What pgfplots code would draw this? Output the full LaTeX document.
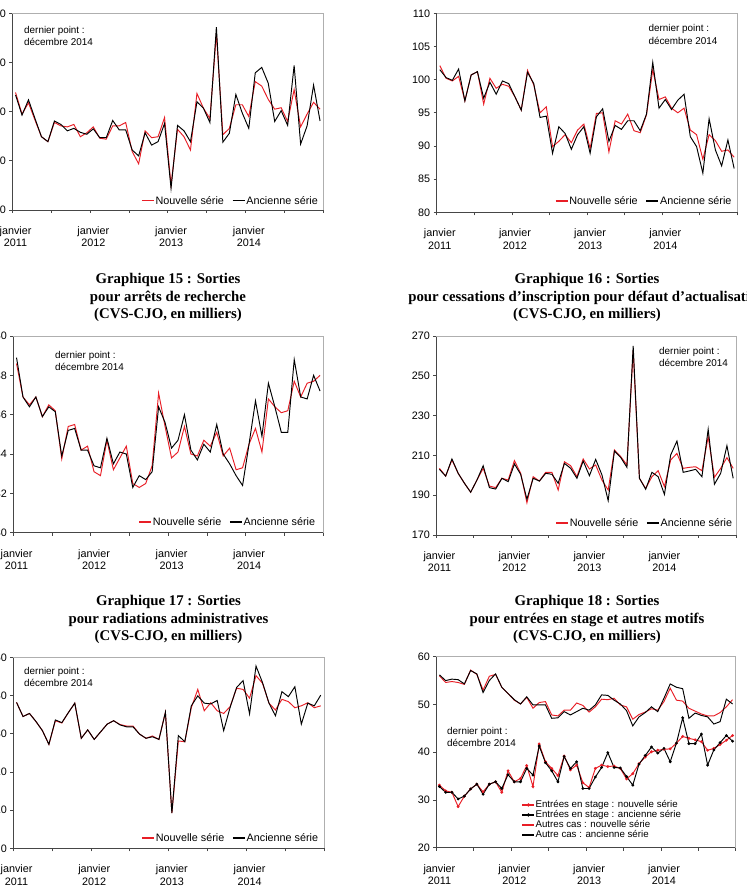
\documentclass[border=0pt]{standalone}
\usepackage{pgfplots}
\pgfplotsset{compat=1.18}
\usepackage{pgfplotstable}
\usepackage{fontspec}
\setmainfont{Liberation Sans}
\newfontfamily\tnr{Liberation Serif}
\definecolor{nred}{RGB}{232,30,38}
\definecolor{framecol}{RGB}{175,175,175}
\definecolor{axl}{RGB}{70,70,70}
\newcommand\tickfont{\fontsize{10.8}{12.6}\selectfont}
\newcommand\notefont{\fontsize{9.9}{12}\selectfont}
\newcommand\titlefont{\tnr\bfseries\fontsize{14.8}{17.7}\selectfont}

\pgfplotstableread{
i n o
0 103.9 103.4
1 99.5 99.3
2 101.8 102.4
3 98.3 98.6
4 94.9 94.9
5 93.9 93.9
6 97.8 98.1
7 97.1 97.4
8 96.9 96.1
9 97.4 96.6
10 94.9 95.8
11 95.7 95.4
12 96.9 96.5
13 94.6 94.7
14 94.4 94.7
15 97.1 98.2
16 97.1 96.3
17 97.8 96.3
18 91.9 92.2
19 89.4 91.0
20 96.1 95.7
21 94.7 93.2
22 94.9 93.9
23 98.8 97.6
24 85.1 84.4
25 96.4 97.2
26 94.9 96.1
27 92.2 93.9
28 103.7 102.0
29 100.7 100.7
30 98.6 97.8
31 115.9 117.2
32 95.3 93.8
33 96.6 95.6
34 101.4 103.5
35 101.4 99.7
36 99.0 96.6
37 106.1 107.9
38 105.2 109.0
39 102.5 105.8
40 100.5 98.0
41 100.8 100.2
42 98.0 97.2
43 104.5 109.4
44 96.9 93.4
45 99.5 97.1
46 101.9 105.4
47 100.5 98.1
}\dA

\pgfplotstableread{
i n o
0 102.1 101.5
1 100.2 100.3
2 99.8 99.9
3 100.5 101.6
4 96.8 96.8
5 100.7 100.7
6 101.2 101.2
7 96.3 97.2
8 100.2 99.6
9 98.7 97.8
10 99.3 99.8
11 99.0 99.4
12 97.4 97.4
13 95.4 95.4
14 101.4 101.1
15 99.2 99.4
16 95.0 94.3
17 95.9 94.5
18 89.9 88.9
19 90.7 92.9
20 91.7 91.9
21 90.5 89.5
22 92.4 91.7
23 93.3 92.9
24 89.6 88.9
25 94.9 94.4
26 95.0 95.6
27 89.1 90.7
28 93.8 93.1
29 93.3 92.5
30 94.8 93.8
31 92.3 93.8
32 92.0 92.3
33 94.7 94.8
34 101.5 102.6
35 97.0 95.7
36 97.4 97.0
37 95.7 95.5
38 95.0 96.9
39 95.7 97.8
40 92.4 91.4
41 91.7 89.9
42 88.0 85.9
43 91.7 94.1
44 90.8 89.4
45 89.2 87.0
46 89.4 90.9
47 88.3 86.6
}\dB

\pgfplotstableread{
i n o
0 38.6 38.9
1 36.9 36.9
2 36.5 36.4
3 36.9 36.9
4 35.9 35.9
5 36.5 36.4
6 36.2 36.15
7 33.75 33.9
8 35.4 35.2
9 35.5 35.3
10 34.2 34.2
11 34.4 34.2
12 33.1 33.4
13 32.9 33.3
14 34.7 34.8
15 33.2 33.5
16 33.8 34.1
17 34.4 34.0
18 32.5 32.3
19 32.3 32.9
20 32.5 32.7
21 33.4 33.1
22 37.1 36.4
23 35.4 35.6
24 33.8 34.3
25 34.1 34.7
26 35.4 36.0
27 34.0 34.2
28 33.9 33.7
29 34.7 34.5
30 34.4 34.1
31 35.1 35.5
32 33.9 34.0
33 34.3 33.5
34 33.2 32.9
35 33.3 32.4
36 34.5 34.5
37 35.3 36.7
38 34.1 34.9
39 36.8 37.6
40 36.4 36.4
41 36.1 35.1
42 36.2 35.1
43 37.7 38.8
44 36.9 36.9
45 37.6 36.8
46 37.7 38.0
47 38.0 37.2
}\dC

\pgfplotstableread{
i n o
0 203.5 203.0
1 199.6 199.6
2 207.7 208.2
3 201.0 201.0
4 196.0 196.0
5 191.5 191.5
6 197.6 197.6
7 203.5 204.8
8 194.6 193.8
9 193.8 193.1
10 198.5 198.5
11 197.6 196.8
12 207.4 205.7
13 201.0 200.5
14 186.2 188.0
15 199.3 198.5
16 197.1 197.1
17 201.5 201.0
18 201.5 200.5
19 192.6 196.0
20 206.8 206.0
21 204.8 203.5
22 199.3 198.5
23 208.2 207.2
24 203.2 199.8
25 205.2 208.0
26 197.6 200.2
27 192.6 187.3
28 212.7 212.2
29 209.4 209.0
30 205.2 204.0
31 262.6 265.0
32 198.5 198.5
33 193.4 193.0
34 199.3 201.5
35 202.3 199.3
36 194.3 190.4
37 207.7 210.2
38 211.0 217.2
39 203.5 201.5
40 204.0 202.2
41 204.3 203.0
42 202.3 199.3
43 219.4 223.1
44 199.0 195.5
45 203.5 201.0
46 208.9 214.9
47 203.5 198.5
}\dD

\pgfplotstableread{
i n o
0 38.2 38.2
1 34.5 34.5
2 35.3 35.3
3 33.2 33.2
4 30.8 30.8
5 27.2 27.2
6 33.4 33.6
7 32.8 32.9
8 35.5 35.5
9 38.0 38.0
10 28.8 28.8
11 31.0 31.0
12 28.5 28.5
13 30.5 30.5
14 32.5 32.5
15 33.4 33.4
16 32.4 32.3
17 32.0 31.8
18 32.0 31.8
19 29.9 29.9
20 28.8 28.8
21 29.4 29.2
22 28.5 28.5
23 35.6 35.6
24 9.2 9.2
25 28.1 29.5
26 27.9 27.9
27 36.8 37.3
28 41.6 39.9
29 36.0 38.0
30 38.1 37.8
31 36.0 38.7
32 35.3 30.8
33 37.1 36.9
34 41.9 42.1
35 41.6 43.9
36 39.3 35.2
37 45.2 47.7
38 43.2 43.4
39 38.0 38.0
40 36.2 34.7
41 39.0 41.0
42 38.4 39.7
43 36.8 42.3
44 37.3 32.5
45 38.1 38.0
46 36.8 37.3
47 37.3 40.1
}\dE

\pgfplotstableread{
i sn so an ao
0 33.1 32.8 56.0 56.2
1 31.9 31.6 54.6 55.0
2 31.6 31.6 54.8 55.3
3 28.6 30.2 54.6 55.2
4 30.8 30.8 54.2 54.3
5 32.3 32.3 57.2 57.1
6 33.3 33.3 56.3 56.4
7 31.7 31.2 53.0 52.5
8 33.3 33.3 55.9 55.0
9 33.8 33.8 56.3 56.4
10 31.6 32.4 53.6 53.6
11 36.1 35.3 52.3 52.3
12 33.8 33.8 50.9 51.0
13 34.5 33.8 50.1 50.1
14 37.2 36.6 51.5 51.6
15 32.8 35.2 49.2 49.9
16 41.7 41.3 50.4 49.9
17 38.0 37.8 50.6 49.9
18 36.6 36.1 47.8 47.1
19 35.1 33.8 47.6 47.2
20 39.2 39.1 48.8 48.5
21 36.3 36.6 48.8 47.8
22 37.3 38.0 50.3 48.5
23 33.6 32.4 49.8 49.2
24 32.6 32.4 48.4 48.8
25 36.6 34.8 49.5 49.9
26 37.3 36.8 51.1 52.0
27 37.0 39.9 51.0 51.9
28 37.1 36.8 51.3 50.9
29 36.6 36.7 49.9 50.1
30 34.4 34.9 49.5 48.7
31 35.5 33.1 46.9 45.5
32 37.6 37.5 47.9 47.4
33 39.0 39.3 48.4 48.3
34 40.1 41.1 49.1 49.5
35 40.4 39.8 48.8 48.5
36 40.6 40.8 50.6 51.3
37 40.7 38.0 53.4 54.3
38 41.9 41.9 50.9 53.6
39 43.3 47.2 50.7 53.3
40 42.9 41.8 49.2 47.1
41 42.6 41.8 48.6 48.2
42 42.2 43.8 48.0 47.7
43 40.4 37.3 47.6 47.4
44 40.8 40.5 47.6 45.9
45 41.6 42.0 48.3 46.4
46 42.5 43.5 49.5 51.1
47 43.5 42.3 51.0 50.1
}\dF

\pgfplotsset{
  panel/.style={
    scale only axis, enlargelimits=false, xmin=0, xmax=48,
    axis lines*=left,
    axis line style={draw=axl, line width=0.8pt},
    tick align=outside, major tick length=3pt,
    every tick/.style={axl, line width=0.7pt},
    xtick={0,6,...,48}, xticklabels={},
    extra x ticks={0.5,12.5,24.5,36.5},
    extra x tick labels={janvier\\2011,janvier\\2012,janvier\\2013,janvier\\2014},
    extra x tick style={major tick length=0pt},
    xticklabel style={align=center, yshift=-13pt},
    ticklabel style={font=\tickfont},
    /pgf/number format/assume math mode=true,
    legend cell align=left,
    legend style={draw=none, fill=none, inner sep=0pt, font=\tickfont,
      nodes={inner sep=1pt},
      /tikz/every even column/.append style={column sep=7pt}},
    legend image code/.code={\draw[##1, line width=1.35pt] (0pt,0.5pt) -- (12pt,0.5pt);},
    extra description/.code={\draw[framecol, line width=0.8pt] (0,1) -- (1,1) -- (1,0);},
    every axis plot/.append style={line width=0.95pt},
  },
  twoleg/.style={legend columns=2, legend style={at={(1,0)}, anchor=south east}},
}

\begin{document}
\begin{tikzpicture}
\path[use as bounding box] (0,0) rectangle (747pt,895pt);
\clip (0,0) rectangle (747pt,895pt);

% Panel 1
\begin{axis}[panel, twoleg, at={(12.3pt,685pt)}, anchor=south west, width=311pt, height=196.7pt,
  ymin=80, ymax=120, ytick={80,90,...,120}, legend style={xshift=-4.3pt, yshift=3pt}]
\addplot[color=nred] table[x expr=\thisrow{i}+0.5, y=n]{\dA}; \addlegendentry{Nouvelle série}
\addplot[color=black] table[x expr=\thisrow{i}+0.5, y=o]{\dA}; \addlegendentry{Ancienne série}
\end{axis}

% Panel 2
\begin{axis}[panel, twoleg, at={(436.7pt,682.7pt)}, anchor=south west, width=300.6pt, height=199pt,
  ymin=80, ymax=110, ytick={80,85,...,110}, legend style={xshift=-4.6pt, yshift=4.8pt}]
\addplot[color=nred] table[x expr=\thisrow{i}+0.5, y=n]{\dB}; \addlegendentry{Nouvelle série}
\addplot[color=black] table[x expr=\thisrow{i}+0.5, y=o]{\dB}; \addlegendentry{Ancienne série}
\end{axis}

% Panel 3
\begin{axis}[panel, twoleg, at={(13.3pt,362.3pt)}, anchor=south west, width=310pt, height=196.7pt,
  ymin=30, ymax=40, ytick={30,32,...,40}, legend style={xshift=-7pt, yshift=4.2pt}]
\addplot[color=nred] table[x expr=\thisrow{i}+0.5, y=n]{\dC}; \addlegendentry{Nouvelle série}
\addplot[color=black] table[x expr=\thisrow{i}+0.5, y=o]{\dC}; \addlegendentry{Ancienne série}
\end{axis}

% Panel 4
\begin{axis}[panel, twoleg, at={(436.3pt,360pt)}, anchor=south west, width=300pt, height=199pt,
  ymin=170, ymax=270, ytick={170,190,...,270}, legend style={xshift=-3pt, yshift=5.5pt}]
\addplot[color=nred] table[x expr=\thisrow{i}+0.5, y=n]{\dD}; \addlegendentry{Nouvelle série}
\addplot[color=black] table[x expr=\thisrow{i}+0.5, y=o]{\dD}; \addlegendentry{Ancienne série}
\end{axis}

% Panel 5
\begin{axis}[panel, twoleg, at={(13.3pt,46.7pt)}, anchor=south west, width=310.7pt, height=191pt,
  ymin=0, ymax=50, ytick={0,10,...,50}, legend style={xshift=-4.7pt, yshift=3.8pt}]
\addplot[color=nred] table[x expr=\thisrow{i}+0.5, y=n]{\dE}; \addlegendentry{Nouvelle série}
\addplot[color=black] table[x expr=\thisrow{i}+0.5, y=o]{\dE}; \addlegendentry{Ancienne série}
\end{axis}

% Panel 6
\begin{axis}[panel, at={(436.3pt,47.3pt)}, anchor=south west, width=299.4pt, height=191pt,
  ymin=20, ymax=60, ytick={20,30,...,60}, legend columns=1,
  legend image code/.code={\draw[mark repeat=2, mark phase=2, #1, line width=1.3pt] plot coordinates {(0pt,0.5pt) (6pt,0.5pt) (12pt,0.5pt)};},
  legend style={at={(0.285,0.037)}, anchor=south west, font=\fontsize{9.7}{10}\selectfont,
    nodes={inner sep=0.5pt, text height=7pt, text depth=2pt}}]
\addplot[color=nred, mark=*, mark size=0.9pt] table[x expr=\thisrow{i}+0.5, y=sn]{\dF}; \addlegendentry{Entrées en stage : nouvelle série}
\addplot[color=black, mark=*, mark size=0.9pt] table[x expr=\thisrow{i}+0.5, y=so]{\dF}; \addlegendentry{Entrées en stage : ancienne série}
\addplot[color=nred] table[x expr=\thisrow{i}+0.5, y=an]{\dF}; \addlegendentry{Autres cas : nouvelle série}
\addplot[color=black] table[x expr=\thisrow{i}+0.5, y=ao]{\dF}; \addlegendentry{Autre cas : ancienne série}
\end{axis}

% notes
\node[anchor=base west, font=\notefont, inner sep=0] at (24pt,861.5pt) {dernier point :};
\node[anchor=base west, font=\notefont, inner sep=0] at (24pt,849.2pt) {décembre 2014};
\node[anchor=base west, font=\notefont, inner sep=0] at (648.3pt,863.2pt) {dernier point :};
\node[anchor=base west, font=\notefont, inner sep=0] at (648.3pt,850.8pt) {décembre 2014};
\node[anchor=base west, font=\notefont, inner sep=0] at (55pt,536.5pt) {dernier point :};
\node[anchor=base west, font=\notefont, inner sep=0] at (55pt,524.2pt) {décembre 2014};
\node[anchor=base west, font=\notefont, inner sep=0] at (659pt,540.8pt) {dernier point :};
\node[anchor=base west, font=\notefont, inner sep=0] at (659pt,528.8pt) {décembre 2014};
\node[anchor=base west, font=\notefont, inner sep=0] at (24pt,220.5pt) {dernier point :};
\node[anchor=base west, font=\notefont, inner sep=0] at (24pt,208.2pt) {décembre 2014};
\node[anchor=base west, font=\notefont, inner sep=0] at (447pt,160.8pt) {dernier point :};
\node[anchor=base west, font=\notefont, inner sep=0] at (447pt,148.2pt) {décembre 2014};

% titles
\node[anchor=base, font=\titlefont, inner sep=0] at (168pt,611.5pt) {Graphique 15 : Sorties};
\node[anchor=base, font=\titlefont, inner sep=0] at (168pt,593.8pt) {pour arrêts de recherche};
\node[anchor=base, font=\titlefont, inner sep=0] at (168pt,576.1pt) {(CVS-CJO, en milliers)};
\node[anchor=base, font=\titlefont, inner sep=0] at (587pt,611.5pt) {Graphique 16 : Sorties};
\node[anchor=base, font=\titlefont, inner sep=0] at (587pt,593.8pt) {pour cessations d’inscription pour défaut d’actualisation};
\node[anchor=base, font=\titlefont, inner sep=0] at (587pt,576.1pt) {(CVS-CJO, en milliers)};
\node[anchor=base, font=\titlefont, inner sep=0] at (168.5pt,289pt) {Graphique 17 : Sorties};
\node[anchor=base, font=\titlefont, inner sep=0] at (168.5pt,271.7pt) {pour radiations administratives};
\node[anchor=base, font=\titlefont, inner sep=0] at (168.5pt,254pt) {(CVS-CJO, en milliers)};
\node[anchor=base, font=\titlefont, inner sep=0] at (587pt,289pt) {Graphique 18 : Sorties};
\node[anchor=base, font=\titlefont, inner sep=0] at (587pt,271.7pt) {pour entrées en stage et autres motifs};
\node[anchor=base, font=\titlefont, inner sep=0] at (587pt,254pt) {(CVS-CJO, en milliers)};

\node[anchor=base west, font=\tnr\fontsize{13}{15}\selectfont, inner sep=0] at (6pt,-10pt) {En arrêt maladie, crédit d’impôt...};
\end{tikzpicture}
\end{document}
